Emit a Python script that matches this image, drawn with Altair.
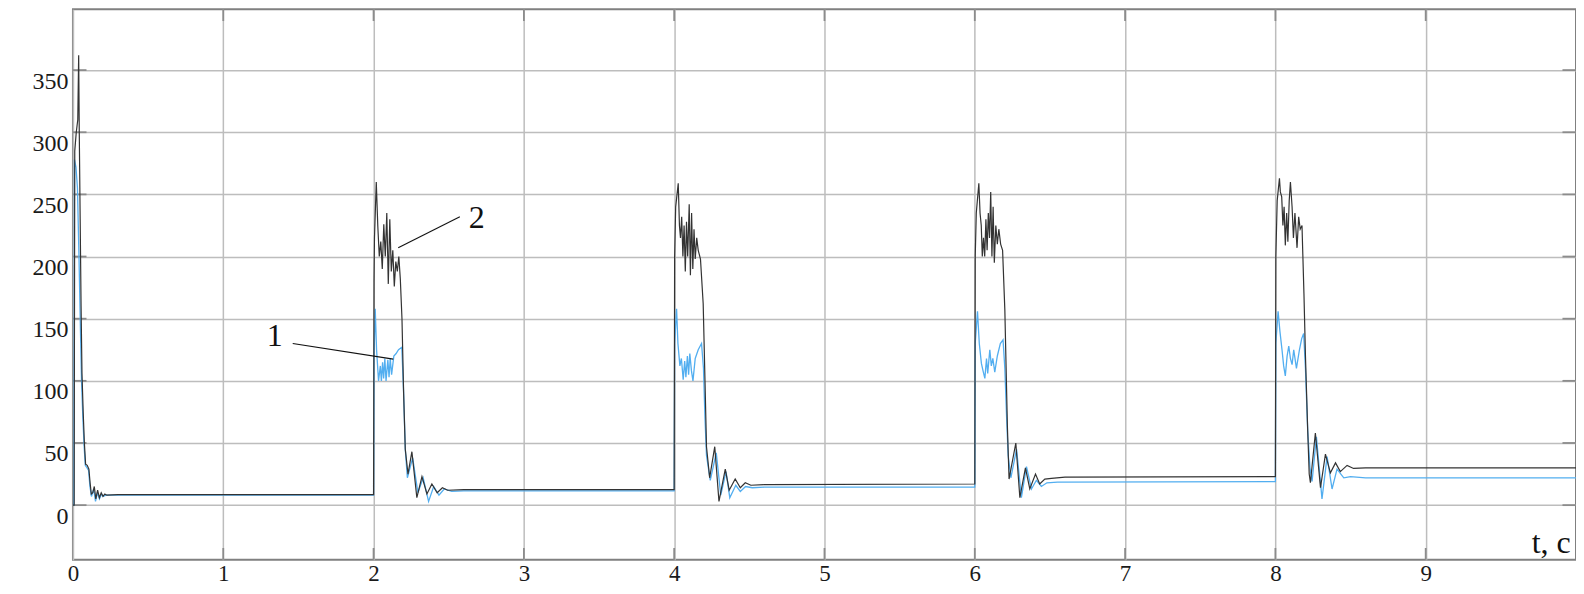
import altair as alt
import pandas as pd

# ---- series 2 (dark) ----
t2 = [0, 0.008, 0.012, 0.022, 0.032, 0.038, 0.042, 0.048, 0.054, 0.060, 0.068, 0.076, 0.084,
      0.095, 0.106, 0.114, 0.122, 0.132, 0.142, 0.152, 0.164, 0.176, 0.188, 0.2, 0.212, 0.225,
      0.3, 2.0,
      2.003, 2.006, 2.018, 2.028, 2.038, 2.048, 2.058, 2.068, 2.078, 2.088, 2.098, 2.108, 2.118,
      2.128, 2.138, 2.148, 2.158, 2.168, 2.178, 2.189, 2.200, 2.211, 2.229, 2.255, 2.288, 2.322,
      2.355, 2.388, 2.423, 2.458, 2.493, 2.6, 4.0,
      4.003, 4.010, 4.027, 4.035, 4.042, 4.05, 4.058, 4.066, 4.074, 4.082, 4.09, 4.1, 4.108,
      4.116, 4.124, 4.132, 4.14, 4.15, 4.16, 4.175, 4.193, 4.205, 4.215, 4.236, 4.27, 4.298,
      4.34, 4.366, 4.406, 4.44, 4.473, 4.51, 4.6, 6.0,
      6.003, 6.010, 6.027, 6.035, 6.043, 6.05, 6.058, 6.066, 6.074, 6.082, 6.09, 6.098, 6.106,
      6.114, 6.122, 6.13, 6.14, 6.15, 6.16, 6.172, 6.185, 6.2, 6.217, 6.228, 6.273, 6.3, 6.337,
      6.366, 6.404, 6.432, 6.466, 6.51, 6.6, 8.0,
      8.003, 8.012, 8.027, 8.033, 8.042, 8.05, 8.058, 8.066, 8.075, 8.083, 8.092, 8.1, 8.111,
      8.12, 8.13, 8.144, 8.155, 8.165, 8.177, 8.19, 8.2, 8.215, 8.225, 8.233, 8.266, 8.3, 8.333,
      8.366, 8.4, 8.432, 8.477, 8.52, 8.6, 10.0]
v2 = [0, 0, 285, 300, 310, 362, 300, 230, 160, 106, 75, 50, 33,
      32, 29, 18, 9, 10, 15, 5, 12, 6, 10, 7, 9, 8,
      8.5, 8.5,
      180, 215, 260, 225, 200, 212, 190, 226, 200, 235, 178, 230, 188,
      205, 176, 196, 188, 200, 182, 150, 90, 45, 25, 43, 6, 23,
      9, 17, 10, 14, 12, 12.5, 12.5,
      200, 240, 259, 225, 215, 232, 200, 225, 188, 228, 200, 242, 185,
      235, 190, 222, 198, 215, 205, 198, 162, 100, 47, 22, 47, 3,
      29, 12, 21, 14, 18, 16, 16.5, 17,
      200, 235, 259, 235, 225, 200, 215, 200, 230, 205, 235, 215, 252,
      200, 240, 195, 225, 210, 222, 210, 205, 157, 63, 21, 50, 6, 30,
      13, 25, 17, 21, 21.5, 22.5, 23,
      200, 245, 263, 252, 248, 225, 240, 209, 235, 212, 245, 260, 240,
      215, 235, 207, 232, 222, 225, 170, 120, 60, 25, 18, 58, 14, 41,
      26, 34, 27, 32, 29.5, 30, 30]

# ---- series 1 (blue) ----
t1 = [0, 0.006, 0.01, 0.02, 0.03, 0.04, 0.05, 0.057, 0.066, 0.074, 0.082, 0.094, 0.104,
      0.113, 0.123, 0.138, 0.15, 0.163, 0.176, 0.19, 0.2, 0.22, 0.3, 2.0,
      2.003, 2.011, 2.02, 2.033, 2.045, 2.052, 2.06, 2.067, 2.075, 2.083, 2.095, 2.103, 2.111,
      2.12, 2.135, 2.15, 2.166, 2.188, 2.2, 2.211, 2.225, 2.26, 2.295, 2.33, 2.366, 2.40, 2.435,
      2.47, 2.52, 2.6, 4.0,
      4.003, 4.016, 4.025, 4.038, 4.048, 4.06, 4.07, 4.078, 4.088, 4.096, 4.104, 4.115, 4.125,
      4.14, 4.16, 4.182, 4.195, 4.205, 4.215, 4.24, 4.28, 4.31, 4.345, 4.37, 4.41, 4.44, 4.475,
      4.52, 4.6, 6.0,
      6.003, 6.018, 6.03, 6.044, 6.055, 6.067, 6.078, 6.086, 6.1, 6.11, 6.12, 6.133, 6.15,
      6.17, 6.188, 6.2, 6.212, 6.222, 6.24, 6.278, 6.31, 6.344, 6.377, 6.41, 6.443, 6.48,
      6.55, 8.0,
      8.003, 8.018, 8.03, 8.044, 8.055, 8.066, 8.078, 8.089, 8.1, 8.111, 8.122, 8.14, 8.16,
      8.175, 8.188, 8.2, 8.215, 8.23, 8.244, 8.273, 8.31, 8.344, 8.377, 8.41, 8.455, 8.5,
      8.6, 10.0]
v1 = [0, 0, 278, 272, 255, 200, 140, 100, 70, 48, 32, 30, 28,
      15, 7, 13, 3, 10, 5, 9, 7, 8, 8, 8,
      120, 158, 125, 100, 112, 100, 115, 102, 118, 100, 117, 103, 118,
      105, 120, 122, 125, 127, 90, 45, 22, 38, 10, 22, 3, 15, 8,
      13, 11, 11.5, 11.5,
      130, 158, 130, 112, 118, 101, 116, 103, 120, 105, 122, 108, 100,
      118, 125, 130, 110, 70, 40, 20, 42, 8, 27, 6, 16, 11, 15,
      14, 14.5, 14.5,
      130, 156, 130, 114, 108, 102, 118, 106, 125, 112, 118, 107, 120,
      130, 133, 110, 70, 40, 22, 45, 6, 31, 13, 20, 15, 18,
      18.5, 19,
      130, 156, 140, 125, 112, 104, 120, 128, 118, 113, 125, 110, 125,
      134, 138, 110, 60, 30, 19, 55, 5, 39, 13, 29, 22, 23,
      22, 22]

x_ticks = [0, 1, 2, 3, 4, 5, 6, 7, 8, 9]
y_ticks = [0, 50, 100, 150, 200, 250, 300, 350]
X_DOM = [0, 10]
Y_DOM = [-44, 399]

# annotations (data coordinates)
ann_text = ["2", "1"]
ann_tx = [2.686, 1.342]
ann_ty = [231, 136]
lead_x = [2.574, 1.462]
lead_y = [232, 130]
lead_x2 = [2.164, 2.131]
lead_y2 = [207, 117.5]

df = pd.concat([
    pd.DataFrame({"t": t1, "v": v1, "s": "1"}),
    pd.DataFrame({"t": t2, "v": v2, "s": "2"}),
])

xs = alt.Scale(domain=X_DOM, nice=False, zero=False)
ys = alt.Scale(domain=Y_DOM, nice=False, zero=False)

base = alt.Chart(df)

x_axis = alt.Axis(values=x_ticks, grid=True, ticks=False, domain=False, title="",
                  format="d",
                  labelFont="Liberation Serif", labelFontSize=23, labelColor="#1a1a1a",
                  labelPadding=21, labelBaseline="alphabetic", labelFlush=False, labelAngle=0,
                  gridColor="#bdbdbd", gridWidth=1.5)
y_axis = alt.Axis(values=y_ticks, grid=True, ticks=False, domain=False, title="",
                  format="d",
                  labelFont="Liberation Serif", labelFontSize=24, labelColor="#1a1a1a",
                  labelPadding=5, labelBaseline="top", labelOffset=-1, labelFlush=False,
                  gridColor="#bdbdbd", gridWidth=1.5)

blue = base.transform_filter(alt.datum.s == "1").mark_line(
    color="#52aef0", strokeWidth=1.3, clip=True
).encode(
    x=alt.X("t:Q", scale=xs, axis=x_axis),
    y=alt.Y("v:Q", scale=ys, axis=y_axis),
    order="t:Q",
)
black = base.transform_filter(alt.datum.s == "2").mark_line(
    color="#333333", strokeWidth=1.2, clip=True
).encode(
    x=alt.X("t:Q", scale=xs),
    y=alt.Y("v:Q", scale=ys),
    order="t:Q",
)

# inward stubs along frame
stub_rows = []
for yv in y_ticks:
    stub_rows.append({"x": 0, "x2": 0.09, "y": yv, "y2": yv})
    stub_rows.append({"x": 9.91, "x2": 10, "y": yv, "y2": yv})
for xv in x_ticks[1:]:
    stub_rows.append({"x": xv, "x2": xv, "y": Y_DOM[0], "y2": Y_DOM[0] + 9.5})
    stub_rows.append({"x": xv, "x2": xv, "y": Y_DOM[1], "y2": Y_DOM[1] - 9.5})
stubs = alt.Chart(pd.DataFrame(stub_rows)).mark_rule(color="#8c8c8c", strokeWidth=1.8).encode(
    x=alt.X("x:Q", scale=xs), x2="x2:Q",
    y=alt.Y("y:Q", scale=ys), y2="y2:Q",
)

leaders = alt.Chart(pd.DataFrame({"x": lead_x, "y": lead_y, "x2": lead_x2, "y2": lead_y2})).mark_rule(
    color="#111111", strokeWidth=1.1
).encode(
    x=alt.X("x:Q", scale=xs), x2="x2:Q",
    y=alt.Y("y:Q", scale=ys), y2="y2:Q",
)

labels = alt.Chart(pd.DataFrame({"x": ann_tx, "y": ann_ty, "txt": ann_text})).mark_text(
    font="Liberation Serif", fontSize=32, color="#111111", align="center", baseline="middle"
).encode(
    x=alt.X("x:Q", scale=xs), y=alt.Y("y:Q", scale=ys), text="txt:N"
)

axis_lbl = alt.Chart(pd.DataFrame({"x": [9.965], "y": [-38.5], "txt": ["t, c"]})).mark_text(
    font="Liberation Serif", fontSize=32, color="#111111", align="right", baseline="alphabetic"
).encode(
    x=alt.X("x:Q", scale=xs), y=alt.Y("y:Q", scale=ys), text="txt:N"
)

chart = alt.layer(stubs, blue, black, leaders, labels, axis_lbl).properties(
    width=1504, height=551,
    autosize=alt.AutoSizeParams(type="none"),
    padding={"left": 65, "top": 1, "right": 0, "bottom": 26},
    background="white",
).configure_view(
    stroke="#808080", strokeWidth=2
)

chart.save("out.html", embed_options={"renderer": "svg", "actions": False})
